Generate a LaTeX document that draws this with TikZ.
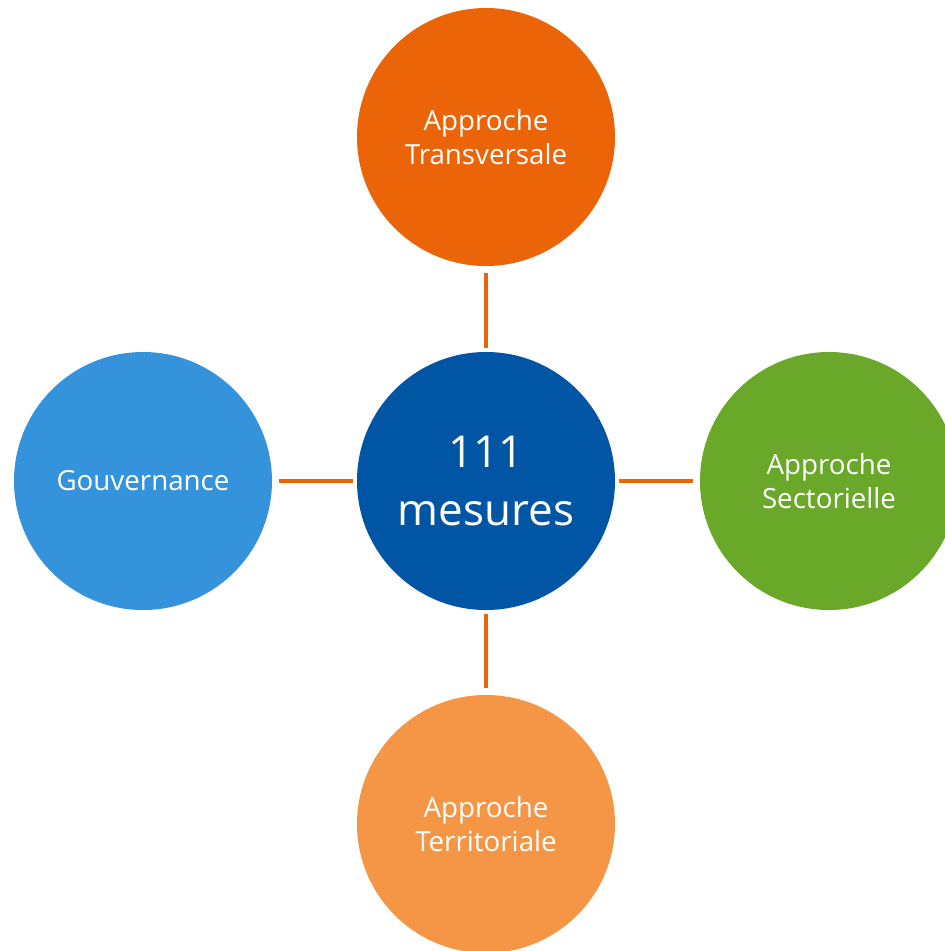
\documentclass[tikz,border=0pt]{standalone}
\usepackage{fontspec}
\setmainfont{Open Sans}
\definecolor{orangefonce}{HTML}{EC6408}
\definecolor{bleufonce}{HTML}{0055A4}
\definecolor{vertpomme}{HTML}{6AA829}
\definecolor{bleuclair}{HTML}{3593DB}
\definecolor{orangeclair}{HTML}{F59646}
\begin{document}
\begin{tikzpicture}
[x=0.75pt,y=-0.75pt,every node/.style={circle,minimum size=193.5pt,inner sep=0pt,text=white,align=center,font=\fontsize{20.8}{26}\selectfont}]
\useasboundingbox (0,0) rectangle (945,951);
\clip (0,0) rectangle (945,951);
\node[fill=bleufonce,font=\fontsize{33}{43}\selectfont] (n0) at (486,481) {111\\mesures};
\node[fill=orangefonce] (n1) at (486,137) {Approche\\Transversale};
\node[fill=vertpomme] (n2) at (829,481) {Approche\\Sectorielle};
\node[fill=orangeclair] (n3) at (486,824) {Approche\\Territoriale};
\node[fill=bleuclair] (n4) at (143,481) {Gouvernance};
\foreach \to in {n1,n2,n3,n4}
\draw[orangefonce,line width=3.5pt,shorten <=2.5pt,shorten >=5pt] (n0) -- (\to);
\end{tikzpicture}
\end{document}
